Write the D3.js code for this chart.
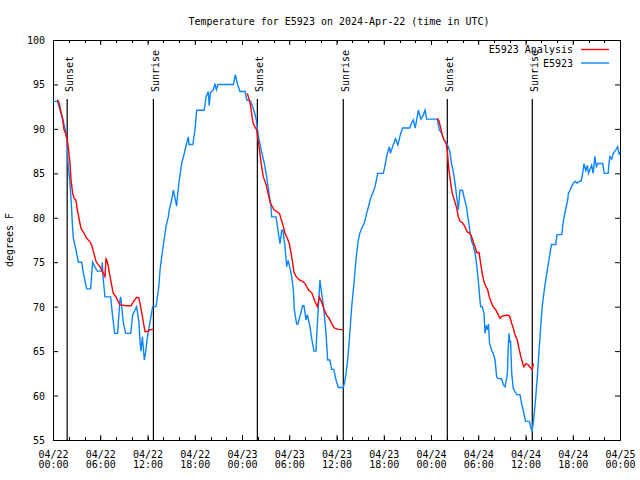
<!DOCTYPE html>
<html>
<head>
<meta charset="utf-8">
<script src="https://cdn.jsdelivr.net/npm/d3@7"></script>
<style>
  html, body { margin: 0; padding: 0; background: #fff; }
  svg { display: block; }
  text { font-family: "DejaVu Sans Mono", "Liberation Mono", monospace; font-size: 10px; fill: #000; }
</style>
</head>
<body>
<svg id="chart" width="640" height="480"></svg>
<script>
// ---- data (hours since 2024-04-22 00:00 UTC) ----
const titleText = "Temperature for E5923 on 2024-Apr-22 (time in UTC)";
const yLabel = "degrees F";
const seriesNames = ["E5923 Analysis", "E5923"];

const obsHours = [0,0.55,0.89,1.23,1.65,1.82,1.9,2.16,2.37,2.45,2.58,2.92,3.22,3.64,3.85,4.28,4.78,5.03,5.3,5.63,6.2,6.26,6.39,6.6,7.32,7.57,7.83,8.2,8.5,8.6,8.93,9.23,9.87,10.12,10.62,10.92,11.05,11.17,11.35,11.6,11.75,11.98,12.19,12.44,12.66,13.08,13.2,13.42,13.59,13.8,14.1,14.35,14.64,14.77,15.07,15.28,15.45,15.7,15.8,16.04,16.34,16.63,16.97,17.18,17.28,17.76,18.03,18.25,19.2,19.43,19.72,19.83,20.0,20.36,20.57,20.75,20.95,21.2,22.9,23.15,23.4,23.75,24.4,24.6,25.1,25.43,25.78,25.95,26.16,26.5,26.84,27.13,27.43,27.68,27.77,28.32,28.6,28.83,29.04,29.2,29.46,29.67,29.85,30.05,30.3,30.52,30.65,30.94,31.1,31.45,31.7,31.87,32.13,32.3,32.63,32.85,33.14,33.4,33.5,33.7,33.9,34.0,34.24,34.4,34.67,34.88,35.17,35.38,35.65,35.94,36.24,36.86,37.05,37.37,37.63,37.93,38.22,38.48,38.77,38.95,39.2,39.53,39.83,40.17,40.25,40.6,40.9,41.23,41.95,42.16,42.37,42.7,42.85,43.2,43.5,43.8,44.15,44.4,45.3,45.5,45.75,46.0,46.4,46.7,46.95,47.24,47.45,48.8,49.05,49.35,49.65,50.0,50.2,50.4,50.6,50.8,51.05,51.26,51.47,51.68,52.0,52.23,52.5,52.74,52.95,53.17,53.37,53.6,53.8,54.0,54.2,54.3,54.5,54.73,54.86,55.0,55.15,55.3,55.43,55.7,55.9,56.13,56.34,56.55,56.95,57.2,57.4,57.6,57.7,57.8,57.9,58.0,58.1,58.25,58.45,58.7,58.9,59.3,59.5,59.7,60.0,60.5,60.7,60.85,61.05,61.27,61.5,61.7,61.9,62.12,62.3,62.5,62.8,63.0,63.3,63.85,64.0,64.6,64.8,65.0,65.36,65.44,65.65,65.86,66.07,66.3,66.55,66.83,67.05,67.26,67.43,67.65,67.85,68.0,68.4,68.6,68.8,69.0,69.2,69.46,69.8,70.0,70.5,70.6,70.73,70.95,71.15,71.45,71.7,71.9,72];
const obsTemps = [93.1,93.1,92.1,91.2,89.5,88.5,86.2,83.9,80.9,79.4,77.7,76.4,75,75,73.8,72,72,75,74.5,74,74,75,73,71.1,71.1,68.9,67,67,70.75,71.1,68.2,67,67,69.1,70,68.2,66.1,65,66.6,64,64.8,66.5,67.6,68.9,70,70,70.75,72.1,74.1,75.6,77.5,79,80.1,80.9,82,83.1,82.4,81.3,82.4,84.25,86.1,87.1,88.4,89.1,88.25,88.25,89.9,92.1,92.1,93.6,94.2,92.6,94.1,94.4,95.1,94.4,95,95,95,96.1,95.1,94.2,94.2,93.25,93.1,92.3,91.2,90.1,88.75,87.4,86.1,84.6,82.75,81.25,80.1,80.1,78.4,77.1,78.6,78.6,76.75,74.5,75.2,74.5,73.4,71.9,69.6,68.05,68.05,69.25,70.1,70.1,68.5,69.1,67.75,66.4,65,65,67,70,73,72.25,70.75,69.6,67,64,64,62.95,62.95,61.75,60.9,60.9,61.5,63.6,66.25,70,72.6,75.4,77.5,78.25,78.8,79.4,80.5,81.6,82,82.75,83.5,85,85,85.9,86.9,88,87.25,88.2,88.9,88.2,89.5,90.1,90.1,90.6,91,90.1,92.1,91.1,91.4,92.1,91.1,91.1,89.9,89.5,88.75,88.4,88,87.4,86.1,85.3,83.9,82.4,80.9,83.1,83.1,82.2,81.25,79.75,78.4,77.3,76.9,76,74.7,73,70.9,70,70,69.25,67,67.9,67.4,68.05,65.9,65.1,64.75,64,62.1,61.9,61.9,61.2,61,61.9,62.5,65.1,67,66,66.2,62.5,60.8,60.4,60.1,60.1,59.1,58.4,57.1,57.1,56.3,56.1,57.4,59.5,62.1,64.75,67.4,70,71.3,72.6,74.3,75.4,77,77,78.1,78.1,79.6,80.5,82,82.75,83.1,83.5,83.9,84.1,83.9,84.1,84.1,85,86.1,85.3,85.9,85,85.9,85,86.9,85.75,86.1,86.1,86.1,85,85,86.1,86.9,86.6,87.25,87.6,88,87.1,87.4];

// analysis: null marks a gap between nightly segments
const anaHours = [0.55,0.75,0.97,1.23,1.4,1.6,1.82,1.99,2.16,2.29,2.5,2.67,2.9,3.09,3.34,3.56,3.85,4.28,4.7,4.91,5.2,5.46,5.7,5.97,6.18,6.39,6.6,6.73,6.85,7.03,7.24,7.45,7.66,8.0,8.29,8.5,9.35,9.9,10.2,10.62,10.9,11.13,11.35,11.6,11.68,12.0,12.32,12.8,
  null,
  24.67,24.93,25.1,25.27,25.43,25.65,25.87,25.98,26.16,26.29,26.5,26.7,26.92,27.13,27.34,27.64,28.06,28.76,29.0,29.25,29.46,29.76,30.0,30.2,30.4,30.6,30.86,31.28,31.8,32.1,32.42,32.63,32.85,33.06,33.27,33.57,33.82,34.0,34.24,34.45,34.75,35.05,35.39,35.72,36.23,36.86,
  null,
  48.8,49.0,49.23,49.45,49.65,49.9,50.07,50.2,50.33,50.5,50.7,50.96,51.26,51.47,51.68,52.0,52.3,52.6,52.95,53.15,53.37,53.6,53.8,54.1,54.3,54.5,54.73,54.98,55.2,55.4,55.7,55.9,56.25,56.55,56.76,56.98,57.4,57.8,58.0,58.25,58.45,58.67,58.96,59.17,59.4,59.65,59.8,60.06,60.3,60.66,60.86,61.0];
const anaTemps = [93.3,93,92.1,91,89.9,89.5,88.75,87.6,86.1,84.25,82.75,82.2,82,80.9,79.75,78.8,78.4,77.7,77.3,76.9,76,75.1,74.75,74.5,74.1,73.75,73.4,75.4,75.2,74.5,73.4,72.4,71.5,71.1,70.55,70.2,70.1,70.1,70.55,71.05,71.0,70,68.9,67.6,67.2,67.2,67.4,67.45,
  null,
  94,93.25,92.6,91.4,90.6,90.2,89.9,89.1,88,87.1,85.75,84.6,84.1,83.5,82.6,81.6,80.9,80.5,79.75,79,78.25,77.7,77.1,76.2,75.1,73.9,73.4,73,72.8,72.45,71.9,71.7,71.6,71.1,70.55,70,71.1,70.75,70.2,69.6,69.05,68.7,68.1,67.6,67.45,67.4,
  null,
  91.2,90.9,90.1,89.3,88.75,88.4,87.6,86.1,85,83.9,82.75,82,81.1,80.1,79.6,79.45,79,78.4,78.25,77.9,77.3,76.75,76.1,76.1,74.9,73.75,72.8,72.25,71.9,71.1,70.4,70,69.6,69.05,68.7,68.9,69,69.05,68.9,68.1,67.6,66.8,66.25,65.3,64.4,63.6,63.25,63.6,63.5,63.1,62.9,63.6];

const sunHours = [1.8, 12.75, 25.95, 36.86, 50.07, 60.86];
const sunLabels = ["Sunset", "Sunrise", "Sunset", "Sunrise", "Sunset", "Sunrise"];

const yTicks = [55, 60, 65, 70, 75, 80, 85, 90, 95, 100];
const xTickHours = [0, 6, 12, 18, 24, 30, 36, 42, 48, 54, 60, 66, 72];
const xMinorHours = d3.range(0, 73, 2);

// ---- layout ----
const svg = d3.select("#chart");
const L = 53, R = 620, T = 40, B = 440;
const t0 = Date.UTC(2024, 3, 22, 0, 0);
const toDate = h => new Date(t0 + h * 3600 * 1000);

const x = d3.scaleUtc().domain([toDate(0), toDate(72)]).range([L, R]);
const y = d3.scaleLinear().domain([55, 100]).range([B, T]);

const fmtDay = d3.utcFormat("%m/%d");
const fmtTime = d3.utcFormat("%H:%M");

// title
svg.append("text").attr("x", 339).attr("y", 24.5).attr("text-anchor", "middle").text(titleText);

// y axis label
svg.append("text").attr("transform", "translate(13,240) rotate(-90)")
  .attr("text-anchor", "middle").text(yLabel);

// minor x ticks (bottom and top, inward)
const minor = svg.append("g").attr("stroke", "#000").attr("stroke-width", 1);
xMinorHours.forEach(h => {
  const px = Math.round(x(toDate(h))) + 0.5;
  minor.append("line").attr("x1", px).attr("x2", px).attr("y1", B).attr("y2", B - 3);
  minor.append("line").attr("x1", px).attr("x2", px).attr("y1", T).attr("y2", T + 3);
});

// bottom axis (major)
const xAxis = d3.axisBottom(x).tickValues(xTickHours.map(toDate)).tickSize(-5).tickSizeOuter(0).tickPadding(0);
const gx = svg.append("g").attr("transform", `translate(0,${B})`).call(xAxis);
gx.select(".domain").remove();
gx.selectAll(".tick text").each(function(d) {
  const t = d3.select(this);
  t.text(null).attr("y", 0).attr("dy", null);
  t.append("tspan").attr("x", 0).attr("y", 17.5).text(fmtDay(d));
  t.append("tspan").attr("x", 0).attr("y", 28).text(fmtTime(d));
});

// top axis mirrored ticks
const gxt = svg.append("g").attr("transform", `translate(0,${T})`)
  .call(d3.axisTop(x).tickValues(xTickHours.map(toDate)).tickSize(-5).tickSizeOuter(0).tickFormat(""));
gxt.select(".domain").remove();

// left axis
const gy = svg.append("g").attr("transform", `translate(${L},0)`)
  .call(d3.axisLeft(y).tickValues(yTicks).tickSize(-5).tickSizeOuter(0).tickPadding(8));
gy.select(".domain").remove();
gy.selectAll(".tick text").attr("dy", "0.35em");

// right axis mirrored ticks
const gyr = svg.append("g").attr("transform", `translate(${R},0)`)
  .call(d3.axisRight(y).tickValues(yTicks).tickSize(-5).tickSizeOuter(0).tickFormat(""));
gyr.select(".domain").remove();

svg.selectAll(".tick line").attr("stroke", "#000");
svg.selectAll(".tick text").attr("font-family", null).attr("font-size", null).attr("fill", "#000");

// frame
svg.append("rect").attr("x", L + 0.5).attr("y", T + 0.5).attr("width", R - L).attr("height", B - T)
  .attr("fill", "none").attr("stroke", "#000").attr("stroke-width", 1);

// sunrise / sunset markers
sunHours.forEach((h, i) => {
  const px = x(toDate(h));
  svg.append("line").attr("x1", px).attr("x2", px).attr("y1", 99).attr("y2", B)
    .attr("stroke", "#000").attr("stroke-width", 1.2);
  svg.append("text").attr("transform", `translate(${px + 5.5},92) rotate(-90)`)
    .attr("text-anchor", "start").text(sunLabels[i]);
});

// series lines
const obs = obsHours.map((h, i) => ({ h, v: obsTemps[i] }));
const ana = anaHours.map((h, i) => ({ h, v: anaTemps[i] }));
const line = d3.line()
  .defined(d => d.h !== null && d.v !== null)
  .x(d => x(toDate(d.h)))
  .y(d => y(d.v));

const colors = ["#ff0000", "#0a84ff"];

svg.append("path").datum(obs).attr("d", line).attr("fill", "none")
  .attr("stroke", colors[1]).attr("stroke-width", 1.4).attr("stroke-linejoin", "miter");
svg.append("path").datum(ana).attr("d", line).attr("fill", "none")
  .attr("stroke", colors[0]).attr("stroke-width", 1.4).attr("stroke-linejoin", "miter");

// legend
const legend = svg.append("g");
seriesNames.forEach((name, i) => {
  const by = 53 + i * 13.5;
  legend.append("text").attr("x", 573).attr("y", by).attr("text-anchor", "end").text(name);
  legend.append("line").attr("x1", 581).attr("x2", 609).attr("y1", by - 3.5).attr("y2", by - 3.5)
    .attr("stroke", colors[i]).attr("stroke-width", 1.4);
});
</script>
</body>
</html>
